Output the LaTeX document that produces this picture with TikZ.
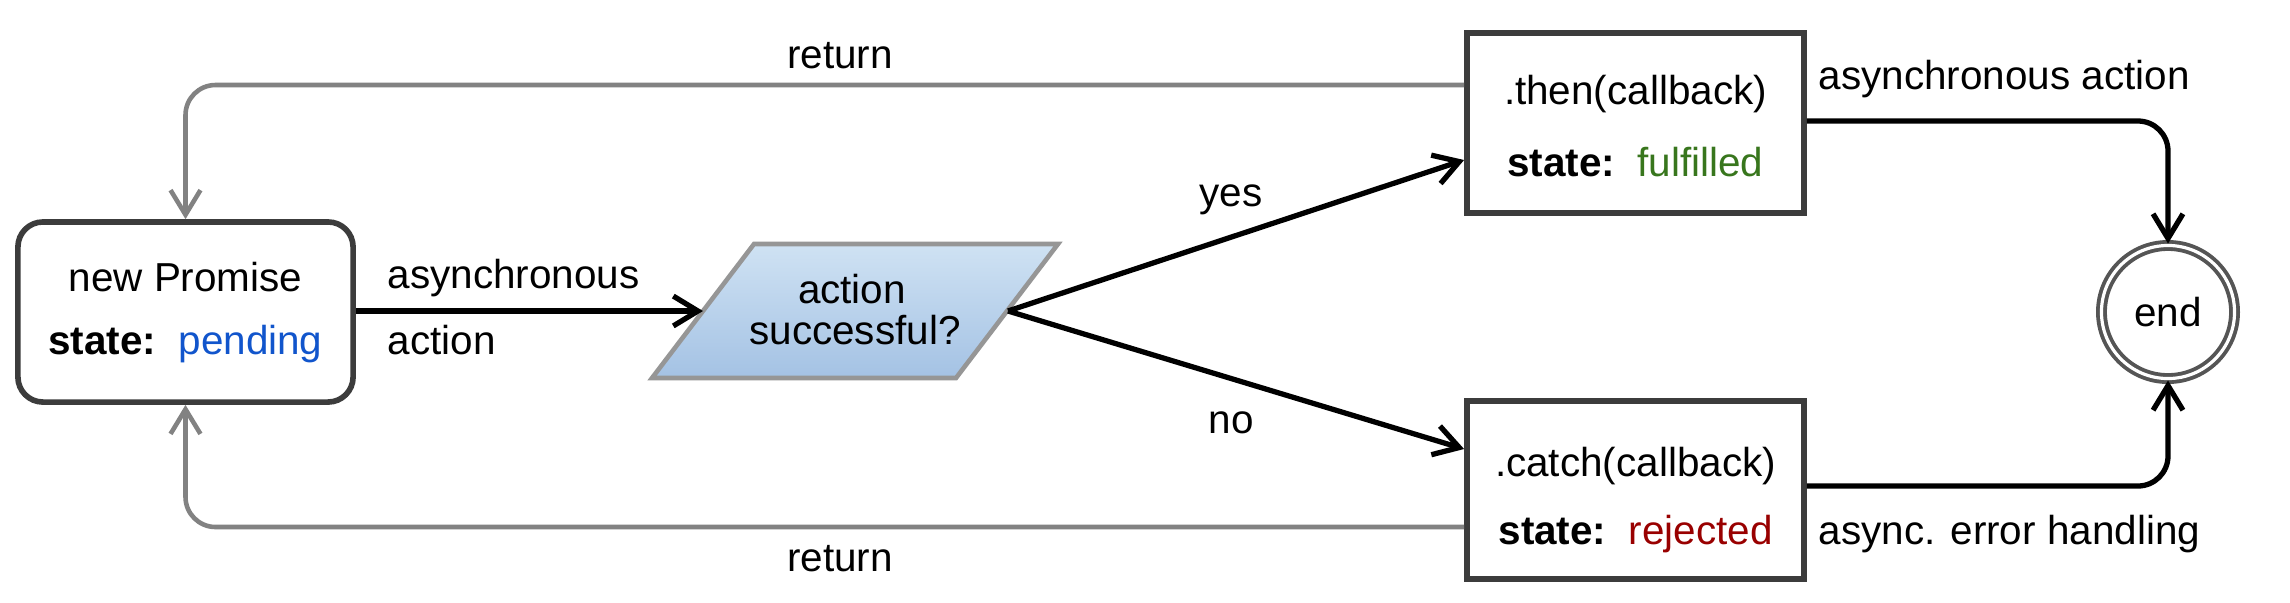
\documentclass[tikz,border=0pt]{standalone}
\usepackage{fontspec}
\setmainfont{Liberation Sans}
\usetikzlibrary{arrows.meta}
\definecolor{pend}{RGB}{17,85,204}
\definecolor{fulf}{RGB}{56,118,29}
\definecolor{rej}{RGB}{153,0,0}
\definecolor{boxgray}{RGB}{60,60,60}
\definecolor{retgray}{RGB}{130,130,130}
\definecolor{endgray}{RGB}{85,85,85}
\definecolor{parTop}{RGB}{207,226,243}
\definecolor{parBot}{RGB}{164,194,228}
\definecolor{parBorder}{RGB}{150,150,150}
\begin{document}
\begin{tikzpicture}[x=0.01cm,y=-0.01cm,
  font=\fontsize{11.5}{13}\selectfont,
  txt/.style={inner sep=0pt, text height=0.72em, text depth=0.21em},
  box/.style={draw=boxgray, line width=1.6pt, inner sep=0pt},
  tip/.style={-{Straight Barb[length=7pt,width=8.5pt]}},
  arr/.style={tip, draw=black, line width=1.5pt},
  ret/.style={tip, draw=retgray, line width=1.3pt, rounded corners=0.3cm},
]
\useasboundingbox[fill=white] (0,0) rectangle (2290,602);

% boxes
\node[box, rounded corners=0.25cm, minimum width=3.35cm, minimum height=1.8cm] (np) at (185.5,312) {};
\node[txt] (npa) at (185.5,283) {new Promise};
\node[txt] (npb) at (185.5,346) {\textbf{state:}\hspace{0.55em}\textcolor{pend}{pending}};

\node[box, minimum width=3.37cm, minimum height=1.8cm] (then) at (1635.5,123) {};
\node[txt] (thena) at (1635.5,96) {.then(callback)};
\node[txt] (thenb) at (1635.5,168) {\textbf{state:}\hspace{0.55em}\textcolor{fulf}{fulfilled}};

\node[box, minimum width=3.37cm, minimum height=1.78cm] (catch) at (1635.5,490) {};
\node[txt] (catcha) at (1635.5,468) {.catch(callback)};
\node[txt] (catchb) at (1635.5,536) {\textbf{state:}\hspace{0.55em}\textcolor{rej}{rejected}};

% decision parallelogram
\coordinate (pBL) at (652,378);
\coordinate (pTL) at (754,244);
\coordinate (pTR) at (1058,244);
\coordinate (pBR) at (956,378);
\shade[top color=parTop, bottom color=parBot] (pBL) -- (pTL) -- (pTR) -- (pBR) -- cycle;
\draw[draw=parBorder, line width=1.3pt, line join=miter] (pBL) -- (pTL) -- (pTR) -- (pBR) -- cycle;
\node[txt] (deca) at (852,295) {action};
\node[txt] (decb) at (855,336) {successful?};
\coordinate (pin) at (703,311);
\coordinate (pout) at (1008,311);

% end
\node[circle, draw=endgray, line width=1.1pt, double, double distance=0.9pt, minimum size=1.33cm, inner sep=0pt] (end) at (2168,312) {end};

% helper levels
\coordinate (yTopRet) at (0,85);
\coordinate (yBotRet) at (0,527);
\coordinate (yYes) at (0,160);
\coordinate (yNo) at (0,449);
\coordinate (yThenOut) at (0,121);
\coordinate (yCatchOut) at (0,486);

% connectors
\draw[arr] (np.east |- pin) -- (pin);
\draw[arr] (pout) -- (then.west |- yYes);
\draw[arr] (pout) -- (catch.west |- yNo);
\draw[arr, rounded corners=0.3cm] (then.east |- yThenOut) -| (end.north);
\draw[arr, rounded corners=0.3cm] (catch.east |- yCatchOut) -| (end.south);
\draw[ret] (then.west |- yTopRet) -| (np.north);
\draw[ret] (catch.west |- yBotRet) -| (np.south);

% labels
\node[txt] (lret1) at (840,60) {return};
\node[txt] (lret2) at (840,563) {return};
\node[txt, anchor=west] (las1) at (387,280) {asynchronous};
\node[txt, anchor=west] (las2) at (387,346) {action};
\node[txt] (lyes) at (1231,198) {yes};
\node[txt] (lno) at (1231,425) {no};
\node[txt, anchor=west] (lta) at (1818,81) {asynchronous action};
\node[txt, anchor=west] (lca) at (1818,536) {async. error handling};
\end{tikzpicture}
\end{document}
